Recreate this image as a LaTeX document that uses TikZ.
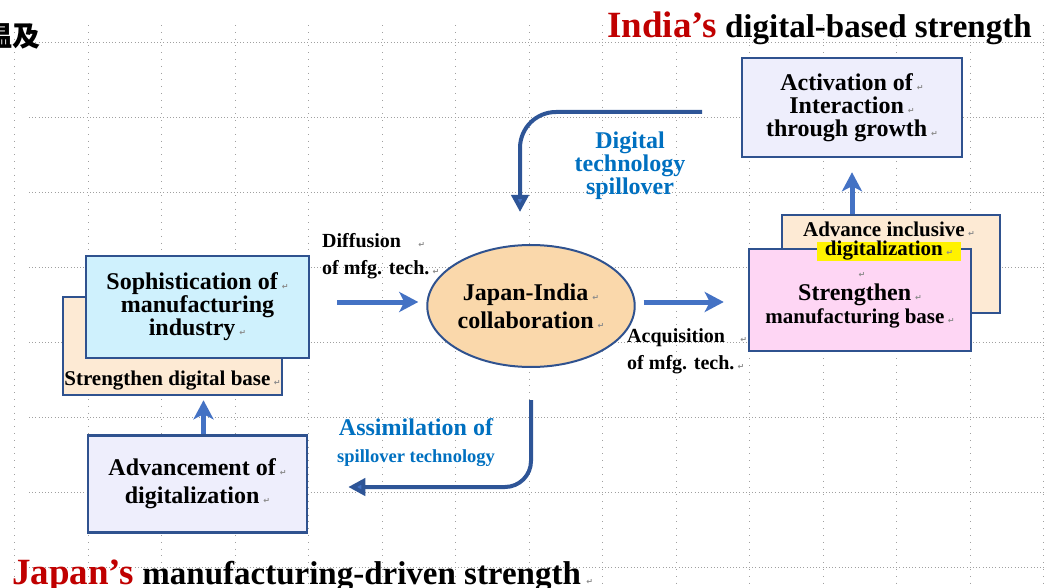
\documentclass[tikz,border=0pt]{standalone}
\usepackage{fontspec}
\setmainfont{Liberation Serif}
\newfontfamily\cjkfont{Noto Sans CJK JP}
\newfontfamily\markfont{DejaVu Sans}
\usetikzlibrary{arrows.meta,shapes.geometric,positioning}

\definecolor{edgeblue}{HTML}{2F528F}
\definecolor{arrowblue}{HTML}{4472C4}
\definecolor{spillblue}{HTML}{2E5597}
\definecolor{labelblue}{HTML}{0070C0}
\definecolor{titlered}{HTML}{C00000}
\definecolor{lavender}{HTML}{EEEEFC}
\definecolor{peach}{HTML}{FDEAD4}
\definecolor{pinkfill}{HTML}{FED6F4}
\definecolor{cyanfill}{HTML}{CFF1FD}
\definecolor{ovalfill}{HTML}{FAD8AB}
\definecolor{hlyellow}{HTML}{FFF200}
\definecolor{markgray}{HTML}{8C8C8C}
\definecolor{gridgray}{HTML}{A0A0A0}

\newcommand\fsz[2]{\fontsize{#1}{#2}\selectfont}
\newcommand\pmark{\,{\markfont\fsz{8}{8}\textcolor{markgray}{↵}}}

\tikzset{
  box/.style={draw=edgeblue, line width=2.5pt, inner sep=0pt, align=center,
    minimum width=220pt, minimum height=99pt, font=\bfseries\fsz{24}{23}},
  flow/.style={arrowblue, line width=5pt, -{Stealth[length=19pt,width=20pt,inset=5pt]}},
  spill/.style={spillblue, line width=4pt, -{Triangle[length=17pt,width=17pt,fill=arrowblue]}},
  edgetext/.style={font=\bfseries\fsz{20}{27}, align=left, inner sep=0pt},
  bluetext/.style={text=labelblue, font=\bfseries\fsz{24}{23}, align=center, inner sep=0pt},
  gridline/.style={gridgray, line width=0.8pt, dash pattern=on 0.8pt off 2.4pt},
}

\begin{document}
\begin{tikzpicture}[x=1pt, y=-1pt]
\useasboundingbox (0,0) rectangle (1047,588);

% Page grid
\foreach \k in {0,...,14}
  \draw[gridline, dash pattern=on 0.8pt off 6pt] ({14.5+73.5*\k},25) -- ({14.5+73.5*\k},588);
\foreach \k in {0,...,7}
  \draw[gridline] (29,{42+75*\k}) -- (1047,{42+75*\k});

% Headings
\node[anchor=east, inner sep=0pt, font=\cjkfont\bfseries\fsz{28}{28}] (cjkhead) at (41,36) {温及};
\node[anchor=base west, inner sep=0pt, font=\bfseries\fsz{33}{33}] (indiahead) at (607,38)
  {\textcolor{titlered}{\fsz{37}{37}India’s} digital-based strength};
\node[anchor=base west, inner sep=0pt, font=\bfseries\fsz{33}{33}] (japanhead) at (12,584)
  {\textcolor{titlered}{\fsz{37}{37}Japan’s} manufacturing-driven strength\pmark};

% India side
\node[box, fill=lavender] (act) at (852,107.5)
  {Activation of\pmark\\ Interaction\pmark\\ through growth\pmark};
\node[box, fill=peach, minimum width=218pt, minimum height=98pt] (advi) at (891,264) {};
\node[box, fill=pinkfill, minimum width=222pt, minimum height=102pt, font=\bfseries\fsz{24}{23}] (strg) at (860,300)
  {\pmark\\ Strengthen\pmark\\ {\fsz{21}{23}manufacturing base\pmark}};
\node[anchor=base, inner sep=0pt, font=\bfseries\fsz{21}{21}] (advitop) at ([xshift=-2pt, yshift=-23pt]advi.north)
  {Advance inclusive\pmark};
\node[fill=hlyellow, inner xsep=8pt, inner ysep=0pt, text height=14pt, text depth=5pt,
  font=\bfseries\fsz{21}{21}] (advibot) at ([xshift=-2pt, yshift=-37.5pt]advi.north) {digitalization\pmark};

% Japan side
\node[box, fill=peach, minimum width=219pt, minimum height=98pt] (sdb) at (172.5,346) {};
\node[anchor=base, inner sep=0pt, font=\bfseries\fsz{21}{21}] (sdbtext) at ([yshift=11pt]sdb.south)
  {Strengthen digital base\pmark};
\node[box, fill=cyanfill, minimum width=223pt, minimum height=102pt] (soph) at (197.5,307)
  {Sophistication of\pmark\\ manufacturing\\ industry\pmark};
\node[box, fill=lavender, minimum width=219pt, minimum height=97pt, font=\bfseries\fsz{24}{28}] (adv) at (197.5,484)
  {Advancement of\pmark\\ digitalization\pmark};

% Collaboration
\node[ellipse, draw=edgeblue, line width=2pt, fill=ovalfill, minimum width=200pt, minimum height=122pt,
  inner sep=0pt, align=center, font=\bfseries\fsz{24}{28}] (jic) at (531,306)
  {Japan-India\pmark\\ collaboration\pmark};

% Straight arrows
\draw[flow, shorten <=27pt, shorten >=8pt] ([yshift=4pt]jic.west -| soph.east) -- ([yshift=4pt]jic.west);
\draw[flow, shorten <=8pt, shorten >=24pt] ([yshift=4pt]jic.east) -- ([yshift=4pt]jic.east -| strg.west);
\draw[flow, shorten >=4pt] ([xshift=6pt]adv.north) -- ([xshift=6pt]adv.north |- sdb.south);
\draw[flow, shorten >=14pt] (act.south |- advi.north) -- (act.south);

% Spillover arrows
\coordinate (dsrc) at (702,112);
\draw[spill, rounded corners=36pt, shorten >=32pt] (dsrc) -| ([xshift=-11pt]jic.north);
\draw[spill, rounded corners=26pt, shorten <=32pt, shorten >=40pt] (jic.south) |- ([yshift=-3pt]adv.east);

% Labels
\node[edgetext, anchor=north west] (difflabel) at (322,233)
  {Diffusion\hspace{14pt}\pmark\\ of mfg. tech.\pmark};
\node[edgetext, anchor=north west] (acqlabel) at (627,328)
  {Acquisition\hspace{12pt}\pmark\\ of mfg. tech.\pmark};
\node[bluetext, anchor=north] (digilabel) at (630,132)
  {Digital\\ technology\\ spillover};
\node[bluetext, anchor=north, font=\bfseries\fsz{24}{27}] (assimlabel) at (416,418)
  {Assimilation of\\ {\fsz{18.5}{27}spillover technology}};
\end{tikzpicture}
\end{document}
